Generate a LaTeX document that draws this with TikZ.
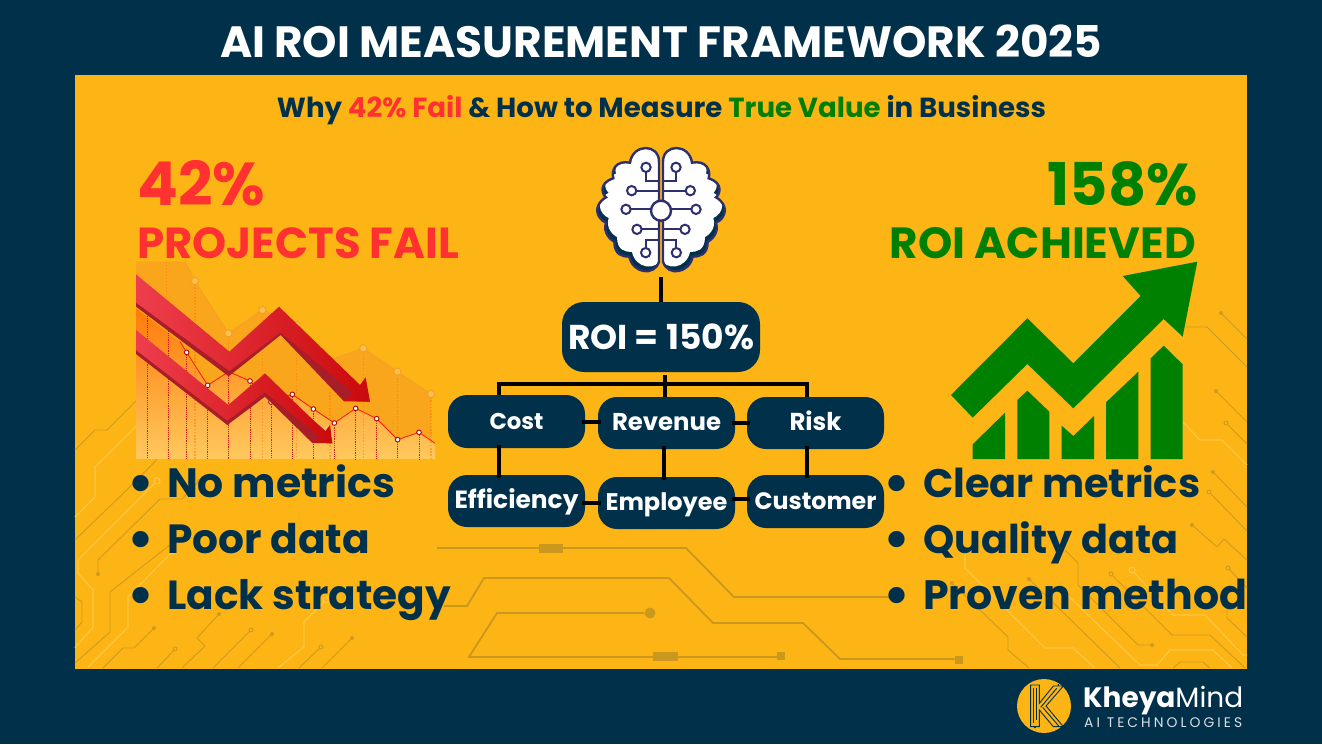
\documentclass[tikz,border=0pt]{standalone}
\usepackage{fontspec}
\usepackage{graphicx}
\setmainfont{Poppins}
\usetikzlibrary{calc}
\definecolor{navy}{HTML}{01304B}
\definecolor{gold}{HTML}{FDB515}
\definecolor{redtxt}{HTML}{FF3131}
\definecolor{grn}{HTML}{008000}
\definecolor{trd}{HTML}{D09A1E}
\definecolor{trl}{HTML}{FEC643}
\definecolor{trc}{HTML}{CB981F}
\definecolor{bpur}{HTML}{2E2F6F}
\definecolor{chtop}{HTML}{FF7A0A}
\definecolor{chmid}{HTML}{FF8C1E}
\definecolor{chbot}{HTML}{FFC95E}
\definecolor{chback}{HTML}{F9A61C}
\definecolor{chbackl}{HTML}{F6A02A}
\definecolor{ptfill}{HTML}{FCC14E}
\definecolor{arl}{HTML}{EE3E4C}
\definecolor{arr}{HTML}{CA0A0C}
\definecolor{ars}{HTML}{A81E28}
\newcommand\fitw[2]{\resizebox{#1bp}{!}{#2}}
\tikzset{
 txt/.style={inner sep=0pt,font=\fontsize{40}{40}\selectfont\bfseries,text=navy},
 tbox/.style={fill=navy,rounded corners=19bp,minimum width=137bp,minimum height=53bp,inner sep=0pt,text=white,font=\fontsize{30}{30}\selectfont\bfseries,text height=15bp,text depth=0pt},
 conn/.style={draw=black,line width=4bp},
 connx/.style={conn,shorten >=-3bp,shorten <=-3bp},
 dk/.style={draw=trd,line width=0.9bp,fill=none},
 lt/.style={draw=trl,line width=1.2bp,fill=none},
 dkdot/.style={fill=trd,draw=none},
 open/.style={draw=trd,line width=0.9bp,fill=gold},
 ltopen/.style={draw=trl,line width=1.2bp,fill=gold},
 ctr/.style={draw=trc,line width=1.8bp,fill=none},
 ctrf/.style={fill=trc,draw=none},
 brainl/.style={draw=bpur,line width=2bp},
 back/.style={draw=chtop,dash pattern=on 1.6bp off 1.6bp,line width=1.1bp,opacity=.5},
 front/.style={draw=red!85!black,dash pattern=on 1.2bp off 1bp,line width=0.8bp,opacity=.85},
 backpt/.style={fill=ptfill,draw=chbackl,line width=1.1bp},
 frontpt/.style={fill=white,draw=red!70!black,line width=0.9bp},
}
\newcommand\brainshape{(-6,65) .. controls (-6,10) and (-85,10) .. (-93,68)
 .. controls (-135,60) and (-150,90) .. (-143,115)
 .. controls (-190,130) and (-175,165) .. (-165,172)
 .. controls (-205,195) and (-195,235) .. (-165,248)
 .. controls (-175,280) and (-150,300) .. (-140,305)
 .. controls (-140,345) and (-115,350) .. (-95,350)
 .. controls (-85,400) and (-20,410) .. (-6,365) -- cycle}
\newcommand\halfbrain{%
 \begin{scope}
  \clip \brainshape;
  \fill[navy] (-210,0) rectangle (0,420);
  \fill[white,shift={(8,-14)}] \brainshape;
  \fill[white] (-6,60) rectangle (-50,300);
 \end{scope}
 \draw[brainl,line width=2.4bp] \brainshape;
 \draw[brainl] (-45,95) -- (-45,122) -- (-6,122);
 \draw[brainl] (-75,152) -- (-6,152);
 \draw[brainl] (-92,208) -- (-28,208);
 \draw[brainl] (-59,268) -- (-6,268);
 \draw[brainl] (-46,325) -- (-46,300) -- (-6,300);
 \foreach \a/\b in {-45/82,-88/152,-105/208,-72/268,-46/338}
  \draw[brainl,fill=white] (\a,\b) circle (14);
}
\begin{document}
\begin{tikzpicture}[x=1bp,y=-1bp]
\useasboundingbox (0,0) rectangle (1322,744);
\fill[navy] (0,0) rectangle (1322,744);
\fill[gold] (75,75) rectangle (1247,669);

% ---- faint circuit traces, left
\draw[dk] (75,450) -- (95,430) -- (107,430) -- (157,380);
\draw[lt] (75,517) -- (95,497) -- (95,467) -- (175,388);
\draw[dk] (75,540) -- (137,480) -- (165,451);
\fill[dkdot] (165,451) circle (2);
\draw[lt] (157,481) -- (78,560) -- (78,573) -- (93,590) -- (93,627) -- (75,648);
\draw[ltopen] (157,481) circle (3);
\draw[dk] (199,481) -- (182,499) -- (160,499) -- (98,560) -- (98,574);
\fill[dkdot] (199,481) circle (2);\fill[dkdot] (98,574) circle (2);
\draw[dk] (185,533) -- (110,592) -- (110,632) -- (75,663);
\draw[lt] (173,551) -- (128,597) -- (128,627) -- (88,667);
\draw[ltopen] (173,551) circle (3);
\draw[dk] (154,628) -- (134,648) -- (123,648) -- (103,668);
\fill[dkdot] (154,628) circle (2);
\draw[dk] (219,614) -- (197,638) -- (205,646) -- (182,668);
\fill[dkdot] (219,614) circle (2);
\draw[dk] (175,649) -- (157,668);\draw[open] (175,649) circle (2);
\draw[dk] (251,630) -- (213,668);\draw[open] (251,630) circle (2);
\draw[dk] (272,634) -- (238,668);\fill[dkdot] (272,634) circle (2);
\draw[lt] (326,600) -- (304,622) -- (304,647) -- (278,668);
\draw[ltopen] (326,600) circle (3);
\draw[dk] (321,647) -- (299,668);\draw[open] (321,647) circle (2);
\draw[dk] (352,638) -- (322,668);\fill[dkdot] (352,638) circle (2);
\draw[dk] (75,597) -- (82,602) -- (82,622) -- (75,630);

% ---- faint circuit traces, right
\draw[dk] (1221,313) -- (1247,339);\fill[dkdot] (1221,313) circle (2);
\draw[dk] (1185,327) -- (1207,327) -- (1247,367);
\draw[dk] (1216,391) -- (1247,422);\fill[dkdot] (1216,391) circle (2);
\draw[dk] (1226,423) -- (1247,444);\draw[open] (1226,423) circle (2);
\draw[lt] (1179,418) -- (1200,440) -- (1222,440) -- (1247,465);
\draw[dk] (1213,472) -- (1247,507);\fill[dkdot] (1213,472) circle (2);
\draw[dk] (1209,492) -- (1247,531);\draw[open] (1209,492) circle (2);
\draw[dk] (1192,525) -- (1217,547) -- (1224,539) -- (1247,560);\fill[dkdot] (1192,525) circle (2);
\draw[dk] (1228,568) -- (1247,588);\draw[open] (1228,568) circle (2);
\draw[dk] (1227,608) -- (1227,618) -- (1247,637);
\draw[lt] (1132,570) -- (1173,615) -- (1205,615) -- (1243,655) -- (1247,655);
\draw[ltopen] (1132,570) circle (3);
\draw[dk] (1111,574) -- (1172,635) -- (1210,635) -- (1245,668);\draw[open] (1111,574) circle (2);
\draw[dk] (1029,579) -- (1120,668);\fill[dkdot] (1029,579) circle (2);
\draw[dk] (952,583) -- (1008,637) -- (1008,650) -- (1029,668);\fill[dkdot] (952,583) circle (2);
\draw[lt] (965,550) -- (965,568) -- (1045,648) -- (1073,648) -- (1095,668);
\draw[dk] (1065,550) -- (1078,563) -- (1078,585) -- (1138,645) -- (1152,645);\fill[dkdot] (1152,645) circle (2);
\draw[lt] (1060,588) -- (1140,665) -- (1157,665) -- (1170,650) -- (1213,650) -- (1232,668);
\draw[dk] (1173,668) -- (1180,662) -- (1203,662) -- (1210,668);

% ---- centre traces
\draw[ctr] (437,548) -- (686,548) -- (734,597) -- (890,597);
\fill[ctrf] (539,544) rectangle (563,553);
\draw[ctr] (444,606) -- (467,606) -- (484,578) -- (669,578) -- (713,623) -- (803,623) -- (840,659) -- (957,659);
\fill[ctrf] (955,656) rectangle (963,664);
\draw[ctr] (644,613) -- (497,613) -- (469,657) -- (778,657);
\fill[ctrf] (650,613) circle (5.5);
\fill[ctrf] (653,652) rectangle (678,661);
\fill[ctrf] (777,652) rectangle (785,660);

% ---- falling chart (zoom coordinates)
\begin{scope}[shift={(130,255)},scale=1/3]
 \clip (18,20) rectangle (915,612);
 \fill[chback] (18,20) -- (165,20) -- (195,78) -- (295,235) -- (397,165) -- (500,210) -- (600,315) -- (700,280) -- (802,350) -- (903,417) -- (903,612) -- (18,612) -- cycle;
 \draw[chbackl,line width=1.1bp] (165,20) -- (195,78) -- (295,235) -- (397,165) -- (500,210) -- (600,315) -- (700,280) -- (802,350) -- (903,417);
 \foreach \a/\b in {110/20,195/78,295/235,397/165,500/210,600/315,700/280,802/350,903/417}
  \draw[back] (\a,\b) -- (\a,612);
 \shade[top color=chtop,middle color=chmid,bottom color=chbot] (18,160) -- (150,260) -- (170,292) -- (233,391) -- (296,350) -- (360,378) -- (423,441) -- (487,418) -- (550,462) -- (613,504) -- (677,460) -- (740,491) -- (803,554) -- (867,532) -- (915,565) -- (915,612) -- (18,612) -- cycle;
 \draw[red!80!orange,line width=0.8bp] (150,260) -- (170,292) -- (233,391) -- (296,350) -- (360,378) -- (423,441) -- (487,418) -- (550,462) -- (613,504) -- (677,460) -- (740,491) -- (803,554) -- (867,532) -- (915,565);
 \foreach \a/\b in {195/300,295/300,397/441,500/420,600/504,700/470,802/554,903/560}
  \draw[back] (\a,\b) -- (\a,612);
 \foreach \a/\b in {52/170,115/220,170/292,233/391,296/350,360/378,423/441,487/418,550/462,613/504,677/460,740/491,803/554,867/532}
  \draw[front] (\a,\b) -- (\a,612);
 \foreach \a/\b in {195/78,295/235,397/165,500/210,700/280,802/350,903/417}
  \draw[backpt] (\a,\b) circle (11);
 \foreach \a/\b in {170/292,233/391,360/378,423/441,487/418,550/462,613/504,677/460,740/491,803/554,867/532}
  \draw[frontpt] (\a,\b) circle (7);
 % lower arrow
 \fill[ars] (18,237) -- (295,462) -- (405,367) -- (600,540) -- (607,565) -- (547,564) -- (405,425) -- (292,510) -- (18,297) -- cycle;
 \shade[left color=arl,right color=arr] (18,225) -- (295,450) -- (405,355) -- (585,530) -- (600,510) -- (607,565) -- (547,562) -- (568,545) -- (405,412) -- (292,497) -- (18,285) -- cycle;
 % upper arrow
 \fill[ars] (18,70) -- (298,302) -- (447,167) -- (700,400) -- (720,440) -- (642,439) -- (452,240) -- (296,364) -- (18,155) -- cycle;
 \shade[left color=arl,right color=arr] (18,58) -- (298,290) -- (447,155) -- (690,390) -- (707,367) -- (720,440) -- (642,437) -- (668,413) -- (452,232) -- (298,348) -- (18,143) -- cycle;
\end{scope}

% ---- green rising chart (zoom coordinates)
\begin{scope}[shift={(940,255)},scale=1/3]
 \fill[grn] (772,20) -- (548,63) -- (602,123) -- (400,325) -- (262,190) -- (33,420) -- (98,488) -- (262,327) -- (400,460) -- (671,192) -- (728,245) -- cycle;
 \fill[grn] (98,568) -- (195,473) -- (195,612) -- (98,612) -- cycle;
 \fill[grn] (232,435) -- (262,407) -- (328,470) -- (328,612) -- (232,612) -- cycle;
 \fill[grn] (365,512) -- (400,543) -- (462,483) -- (462,612) -- (365,612) -- cycle;
 \fill[grn] (498,442) -- (595,350) -- (595,612) -- (498,612) -- cycle;
 \fill[grn] (632,310) -- (671,272) -- (728,328) -- (728,612) -- (632,612) -- cycle;
\end{scope}

% ---- brain
\begin{scope}[shift={(661,140)},scale=1/3]
 \halfbrain
\end{scope}
\begin{scope}[shift={(661,140)},xscale=-1/3,yscale=1/3]
 \halfbrain
\end{scope}
\draw[brainl,line width=2.4bp,fill=white] (661,210.7) circle (10);

% ---- texts
\node[txt,text=white,anchor=base] (title) at (661,58) {\fitw{882}{AI ROI MEASUREMENT FRAMEWORK 2025}};
\node[txt,anchor=base] (subtitle) at (661.5,117) {\fitw{769}{Why \textcolor{redtxt}{42\% Fail} \& How to Measure \textcolor{grn}{True Value} in Business}};
\node[txt,text=redtxt,anchor=base west] (pct) at (137,205) {\fitw{128}{42\%}};
\node[txt,text=redtxt,anchor=base west] (fail) at (137,258) {\fitw{322}{PROJECTS FAIL}};
\node[txt,text=grn,anchor=base east] (roipct) at (1198,205) {\fitw{150}{158\%}};
\node[txt,text=grn,anchor=base east] (ach) at (1196,258) {\fitw{306}{ROI ACHIEVED}};
\node[txt,anchor=base west] (l1) at (167,497) {\fitw{228}{No metrics}};
\node[txt,anchor=base west] (l2) at (167,553) {\fitw{203}{Poor data}};
\node[txt,anchor=base west] (l3) at (167,609) {\fitw{284}{Lack strategy}};
\node[txt,anchor=base west] (r1) at (923,497) {\fitw{277}{Clear metrics}};
\node[txt,anchor=base west] (r2) at (923,553) {\fitw{255}{Quality data}};
\node[txt,anchor=base west] (r3) at (923,609) {\fitw{324}{Proven method}};
\foreach \n/\x/\y in {a/141/484,b/141/540,c/141/596,d/897/484,e/897/540,f/897/596}
 \node[txt,font=\fontsize{54}{54}\selectfont\bfseries,yshift=-4bp] (b\n) at (\x,\y) {•};

% ---- boxes
\node[tbox,minimum width=198bp,minimum height=70bp,rounded corners=22bp,text height=24bp] (roi) at (661,337) {\fitw{186}{ROI = 150\%}};
\node[tbox] (cost) at (516.5,421.5) {\fitw{54}{Cost}};
\node[tbox,minimum height=52bp] (revenue) at (666.5,423) {\fitw{109}{Revenue}};
\node[tbox,minimum height=52bp] (risk) at (815.5,423) {\fitw{52}{Risk}};
\node[tbox,minimum height=52bp] (efficiency) at (516.5,501) {\fitw{124}{Efficiency}};
\node[tbox,minimum height=52bp] (employee) at (666.5,503) {\fitw{122}{Employee}};
\node[tbox] (customer) at (815.5,501.5) {\fitw{122}{Customer}};

% ---- connectors
\coordinate (brainbase) at (661,277);
\coordinate (busL) at (498.5,383.5);
\coordinate (busR) at (807,383.5);
\coordinate (busM) at (665,375);
\draw[conn] (brainbase) -- (roi.north);
\draw[conn] (busL |- cost.north) -- (busL) -- (busR) -- (busR |- risk.north);
\draw[conn] (busM) -- (busM |- revenue.north);
\draw[connx] (busL |- cost.south) -- (busL |- efficiency.north);
\draw[connx] ([xshift=-2.5bp]revenue.south) -- ([xshift=-2.5bp]employee.north);
\draw[connx] (busR |- risk.south) -- (busR |- customer.north);
\draw[connx] (cost.east) -- (cost.east -| revenue.west);
\draw[connx] (revenue.east) -- (risk.west);
\draw[connx] (employee.west -| efficiency.east) -- (employee.west);
\draw[connx] ([yshift=4bp]employee.east) -- ([yshift=4bp]employee.east -| customer.west);

% ---- logo
\fill[gold] (1044,706) circle (27);
\begin{scope}[shift={(1000,670)},scale=1/3,navy,line width=0.9bp]
 \draw (92,45) -- (118,45) -- (118,100) -- (160,48) -- (190,48) -- (138,108) -- (190,170) -- (160,170) -- (118,120) -- (118,170) -- (92,170) -- cycle;
 \draw (100,55) -- (100,160) (110,55) -- (110,150);
 \draw (122,112) -- (170,55) (128,112) -- (178,170);
 \fill (175,45) circle (3);\fill (105,172) circle (3);\fill (190,168) circle (3);
\end{scope}
\node[inner sep=0pt,text=white,font=\fontsize{30}{30}\selectfont,anchor=base west] (logoa) at (1083,707.7) {\fitw{160}{\textbf{Kheya}Mind}};
\node[inner sep=0pt,text=white!85!navy,font=\fontsize{20}{20}\selectfont\addfontfeature{LetterSpace=22},anchor=base west] (logob) at (1084,727) {\fitw{158}{AI TECHNOLOGIES}};
\end{tikzpicture}
\end{document}
